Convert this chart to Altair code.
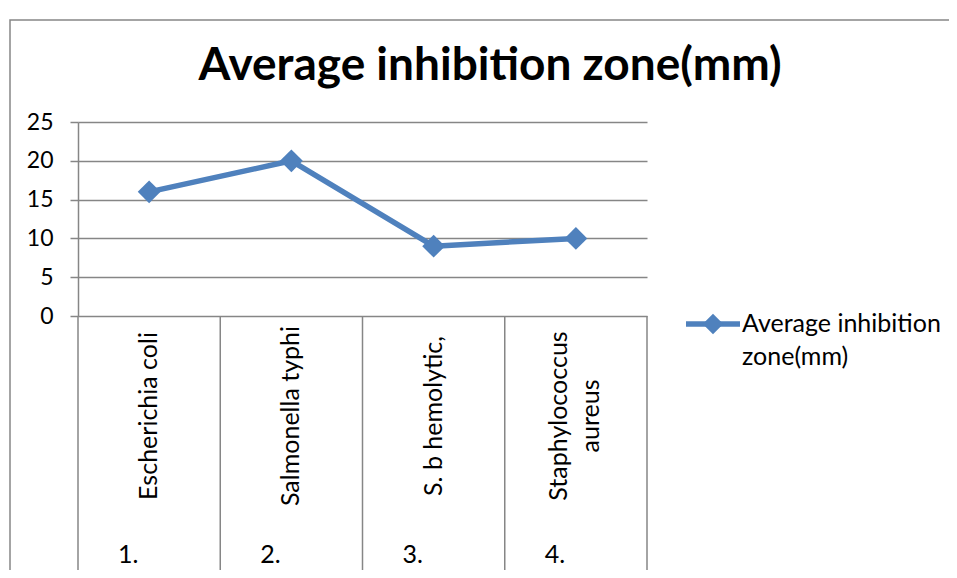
import altair as alt
import pandas as pd

# ---- data ----
categories = ["Escherichia coli", "Salmonella typhi", "S. b hemolytic,", "Staphylococcus aureus"]
ordinals = ["1.", "2.", "3.", "4."]
values = [16, 20, 9, 10]
series_name = "Average inhibition zone(mm)"
legend_lines = ["Average inhibition", "zone(mm)"]
y_ticks = [0, 5, 10, 15, 20, 25]

df = pd.DataFrame({"cat": categories, "num": ordinals, "value": values})
legend_df = pd.DataFrame({"series": [series_name]})

W, H = 569, 194
BLUE = "#4F81BD"
GRID = "#868686"
FONT = "Lato"
FS = 25
AXFS = 23

x_enc = alt.X("cat:N", sort=categories,
              scale=alt.Scale(paddingInner=0, paddingOuter=0), axis=None)
y_enc = alt.Y("value:Q", scale=alt.Scale(domain=[0, 25], nice=False),
              axis=alt.Axis(values=y_ticks, grid=True, gridColor=GRID, gridWidth=1.5,
                            domainColor=GRID, domainWidth=1.5, tickColor=GRID,
                            tickSize=8, tickWidth=1.5, labelFontSize=AXFS, labelFont=FONT,
                            labelColor="black", labelPadding=17, title=None))

base = alt.Chart(df)

line = base.mark_line(color=BLUE, strokeWidth=5.5, strokeJoin="round").encode(x=x_enc, y=y_enc)
pts = base.mark_point(shape="diamond", filled=True, size=520, color=BLUE,
                      opacity=1).encode(x=x_enc, y=y_enc)

dividers = base.mark_rule(color=GRID, strokeWidth=1.5).encode(
    x=alt.X("cat:N", sort=categories, bandPosition=0,
            scale=alt.Scale(paddingInner=0, paddingOuter=0), axis=None),
    y=alt.value(H), y2=alt.value(H + 270))
right_div = alt.Chart(legend_df).mark_rule(color=GRID, strokeWidth=1.5).encode(
    x=alt.value(W), y=alt.value(H), y2=alt.value(H + 270))

labelled = base.transform_calculate(
    label="length(datum.cat) > 18 ? replace(datum.cat, ' ', '\\n') : datum.cat",
    wrapped="length(datum.cat) > 18"
)
cat_labels_single = labelled.transform_filter("!datum.wrapped").mark_text(
    angle=270, align="center", baseline="middle", lineBreak="\n",
    lineHeight=32, fontSize=FS, font=FONT, color="black").encode(
    x=x_enc, y=alt.value(294), text="label:N")
cat_labels_wrapped = labelled.transform_filter("datum.wrapped").mark_text(
    angle=270, align="center", baseline="middle", lineBreak="\n", dy=-17,
    lineHeight=32, fontSize=FS, font=FONT, color="black").encode(
    x=x_enc, y=alt.value(294), text="label:N")

num_labels = base.mark_text(align="center", baseline="middle", dx=-21,
                            fontSize=FS, font=FONT, color="black").encode(
    x=x_enc, y=alt.value(433), text="num:N")

title = alt.Chart(legend_df).mark_text(
    align="center", baseline="alphabetic", fontSize=46, font=FONT,
    fontWeight="bold", color="black").encode(
    x=alt.value(412), y=alt.value(-42), text="series:N")

leg_line = alt.Chart(legend_df).mark_rule(color=BLUE, strokeWidth=5.5).encode(
    x=alt.value(608), x2=alt.value(662), y=alt.value(202))
leg_pt = alt.Chart(legend_df).mark_point(shape="diamond", filled=True, size=420,
                                         color=BLUE, opacity=1).encode(
    x=alt.value(635), y=alt.value(202))
leg_text = alt.Chart(legend_df).mark_text(
    text=legend_lines, align="left", baseline="middle", lineHeight=33,
    fontSize=FS, font=FONT, color="black").encode(
    x=alt.value(664), y=alt.value(202))

frame = alt.Chart(legend_df).mark_rect(fillOpacity=0, stroke=GRID, strokeWidth=1.5).encode(
    x=alt.value(-68), y=alt.value(-102), x2=alt.value(1200), y2=alt.value(1200))

chart = alt.layer(
    frame, dividers, right_div, line, pts, cat_labels_single, cat_labels_wrapped,
    num_labels, title, leg_line, leg_pt, leg_text
).properties(
    width=W, height=H,
    autosize=alt.AutoSizeParams(type="none"),
    padding={"left": 70, "top": 114, "right": 302, "bottom": 254},
    background="white",
).configure_view(stroke=None)

chart.save("out.html", embed_options={"renderer": "svg", "actions": False})
